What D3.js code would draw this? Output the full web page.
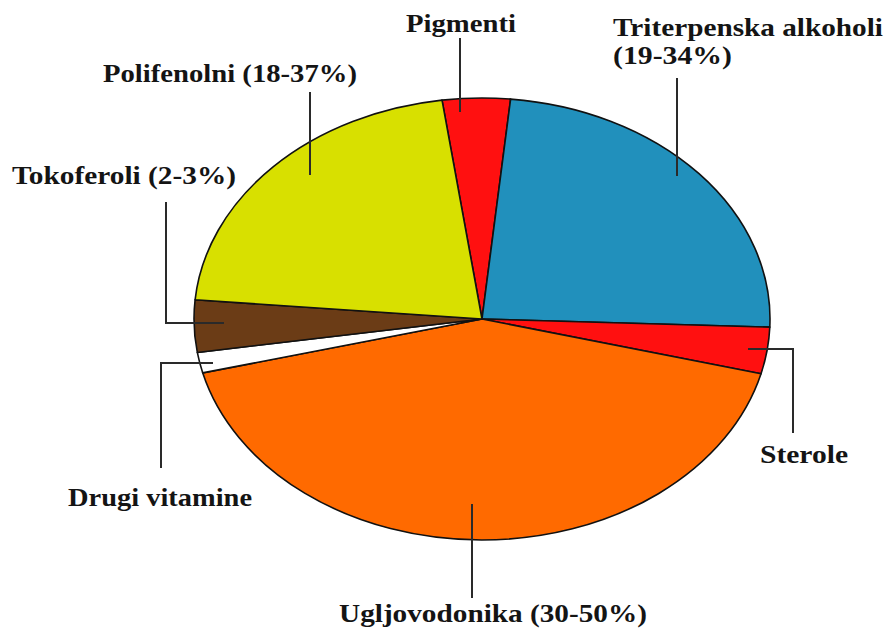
<!DOCTYPE html>
<html>
<head>
<meta charset="utf-8">
<script src="https://cdn.jsdelivr.net/npm/d3@7"></script>
<style>
  html, body { margin: 0; padding: 0; background: #fff; }
  svg { display: block; }
</style>
</head>
<body>
<svg id="chart" width="886" height="629"></svg>
<script>
// ---- data (slice order clockwise from top) ----
const categories = ["Pigmenti", "Triterpenska alkoholi", "Sterole", "Ugljovodonika", "Drugi vitamine", "Tokoferoli", "Polifenolni"];
const values     = [3.8, 24.0, 3.4, 42.1, 1.5, 3.8, 21.4];
const labelTexts = [
  ["Pigmenti"],
  ["Triterpenska alkoholi", "(19-34%)"],
  ["Sterole"],
  ["Ugljovodonika (30-50%)"],
  ["Drugi vitamine"],
  ["Tokoferoli (2-3%)"],
  ["Polifenolni (18-37%)"]
];
const sliceColors = ["#ff1010", "#2190bc", "#ff1010", "#ff6a00", "#ffffff", "#6b3c16", "#d8e000"];

// ---- layout ----
const W = 886, H = 629;
const cx = 482, cy = 319, rx = 288, ry = 221, R = 100;
const startDeg = -7.98;
const FONT = "'Liberation Serif', Tinos, 'Times New Roman', Times, serif";

const svg = d3.select("#chart");

const color = d3.scaleOrdinal().domain(categories).range(sliceColors);

const pie = d3.pie().sort(null).value(d => d.v)
  .startAngle(startDeg * Math.PI / 180)
  .endAngle(startDeg * Math.PI / 180 + 2 * Math.PI);

const arcs = pie(categories.map((c, i) => ({ c, v: values[i] })));
const arc = d3.arc().innerRadius(0).outerRadius(R);

const g = svg.append("g")
  .attr("transform", `translate(${cx},${cy}) scale(${rx / R},${ry / R})`);

g.selectAll("path.slice").data(arcs).enter().append("path")
  .attr("class", "slice")
  .attr("d", arc)
  .attr("fill", d => color(d.data.c))
  .attr("stroke", "#111")
  .attr("stroke-width", 1.6)
  .attr("stroke-linejoin", "round")
  .attr("vector-effect", "non-scaling-stroke");

// ---- leader lines (annotation layout) ----
const leaders = [
  [[460, 38], [460, 112]],
  [[677, 78], [677, 176]],
  [[748, 349], [793, 349], [793, 433]],
  [[472, 504], [472, 598]],
  [[213, 363], [161, 363], [161, 468]],
  [[224, 323], [166, 323], [166, 202]],
  [[310, 92], [310, 175]]
];
const line = d3.line();
svg.append("g").selectAll("path").data(leaders).enter().append("path")
  .attr("d", d => line(d))
  .attr("fill", "none")
  .attr("stroke", "#2a2a2a")
  .attr("stroke-width", 2);

// ---- labels (annotation layout) ----
const labelPos = [
  [{ x: 406, y: 32, w: 110 }],
  [{ x: 613, y: 36, w: 270 }, { x: 613, y: 64, w: 119 }],
  [{ x: 760, y: 463, w: 88 }],
  [{ x: 339, y: 622, w: 308 }],
  [{ x: 68, y: 506, w: 184 }],
  [{ x: 12, y: 184, w: 224 }],
  [{ x: 103, y: 82, w: 254 }]
];
const lg = svg.append("g");
labelTexts.forEach((lines, i) => {
  lines.forEach((t, j) => {
    const p = labelPos[i][j];
    lg.append("text")
      .attr("x", p.x)
      .attr("y", p.y)
      .attr("font-family", FONT)
      .attr("font-weight", "bold")
      .attr("font-size", 26)
      .attr("fill", "#141414")
      .attr("textLength", p.w)
      .attr("lengthAdjust", "spacingAndGlyphs")
      .text(t);
  });
});
</script>
</body>
</html>
